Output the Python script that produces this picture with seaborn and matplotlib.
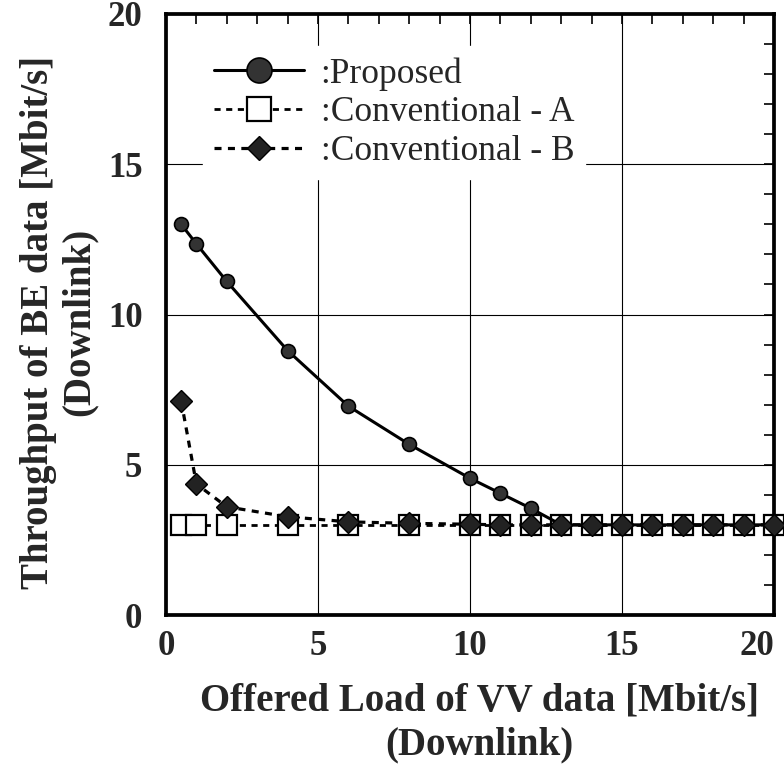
import matplotlib
matplotlib.use("Agg")
import matplotlib.pyplot as plt
import seaborn as sns
import pandas as pd
from matplotlib.ticker import MultipleLocator

# ---- data ----
x_load = [0.5, 1, 2, 4, 6, 8, 10, 11, 12, 13, 14, 15, 16, 17, 18, 19, 20]
proposed = [13.0, 12.35, 11.1, 8.8, 6.95, 5.68, 4.55, 4.05, 3.55,
            3.0, 3.0, 3.0, 3.0, 3.0, 3.0, 3.0, 3.0]
conv_a = [3.0, 3.0, 3.0, 3.0, 3.0, 3.0, 3.0, 3.0, 3.0,
          3.0, 3.0, 3.0, 3.0, 3.0, 3.0, 3.0, 3.0]
conv_b = [7.12, 4.36, 3.6, 3.27, 3.1, 3.05, 3.02, 3.0, 3.0,
          3.0, 3.0, 3.0, 3.0, 3.0, 3.0, 3.0, 3.0]
labels = [":Proposed", ":Conventional - A", ":Conventional - B"]
x_ticks = [0, 5, 10, 15, 20]
y_ticks = [0, 5, 10, 15, 20]
x_title = "Offered Load of VV data [Mbit/s]\n(Downlink)"
y_title = "Throughput of BE data [Mbit/s]\n(Downlink)"

sns.set_theme(style="white")
plt.rcParams["font.family"] = ["Liberation Serif", "DejaVu Serif"]

df_p = pd.DataFrame({"x": x_load, "y": proposed})
df_a = pd.DataFrame({"x": x_load, "y": conv_a})
df_b = pd.DataFrame({"x": x_load, "y": conv_b})

fig = plt.figure(figsize=(7.84, 7.83), dpi=100)
ax = fig.add_axes([166 / 784, 1 - 615 / 783, 608 / 784, 601 / 783])

sns.lineplot(data=df_a, x="x", y="y", ax=ax, color="black", lw=2.0,
             linestyle=(0, (2.2, 2.0)), marker="s", markersize=15,
             markerfacecolor="white", markeredgecolor="black",
             markeredgewidth=1.6, clip_on=False, zorder=3, label=labels[1],
             sort=False)
sns.lineplot(data=df_p, x="x", y="y", ax=ax, color="black", lw=2.2,
             marker="o", markersize=10, markerfacecolor="#333333",
             markeredgecolor="black", markeredgewidth=1.2, clip_on=False,
             zorder=4, label=labels[0], sort=False)
sns.lineplot(data=df_b, x="x", y="y", ax=ax, color="black", lw=2.3,
             linestyle=(0, (2.2, 2.0)), marker="D", markersize=11,
             markerfacecolor="#222222", markeredgecolor="black",
             markeredgewidth=1.0, clip_on=False, zorder=5, label=labels[2],
             sort=False)

ax.set_xlim(0, 20)
ax.set_ylim(0, 20)
ax.set_xticks(x_ticks)
ax.set_yticks(y_ticks)
ax.set_xticklabels([str(v) for v in x_ticks])
ax.set_yticklabels([str(v) for v in y_ticks])
ax.xaxis.set_minor_locator(MultipleLocator(1))
ax.yaxis.set_minor_locator(MultipleLocator(1))
ax.tick_params(which="both", direction="in", top=True, right=True,
               length=7, width=1.2, color="black")
ax.tick_params(axis="x", which="major", pad=11, labelsize=25)
ax.tick_params(axis="y", which="major", pad=17, labelsize=25)
for t in ax.get_xticklabels() + ax.get_yticklabels():
    t.set_fontweight("bold")
ax.get_xticklabels()[-1].set_horizontalalignment("right")

ax.grid(True, which="major", color="black", lw=0.8)
for s in ax.spines.values():
    s.set_visible(True)
    s.set_color("black")
    s.set_linewidth(2.7)

ax.set_xlabel(x_title, fontsize=28, fontweight="bold", linespacing=1.25)
ax.set_ylabel(y_title, fontsize=28, fontweight="bold", linespacing=1.15)
ax.xaxis.set_label_coords(0.516, -0.112)
ax.yaxis.set_label_coords(-0.112, 0.4875)

handles, labs = ax.get_legend_handles_labels()
order = [labs.index(l) for l in labels]
leg = ax.legend([handles[i] for i in order], [labs[i] for i in order],
                loc="upper left", bbox_to_anchor=(0.061, 0.946),
                borderaxespad=0, borderpad=0.3, frameon=True,
                facecolor="white", edgecolor="white", framealpha=1,
                fancybox=False, prop={"family": "Liberation Serif", "size": 25.5},
                handlelength=2.55, handletextpad=0.47, labelspacing=0.16)
leg.set_zorder(6)
sizes = [18, 17, 12.5]
for h, ms in zip(leg.legend_handles, sizes):
    h.set_markersize(ms)

fig.savefig("out.png", dpi=100)
